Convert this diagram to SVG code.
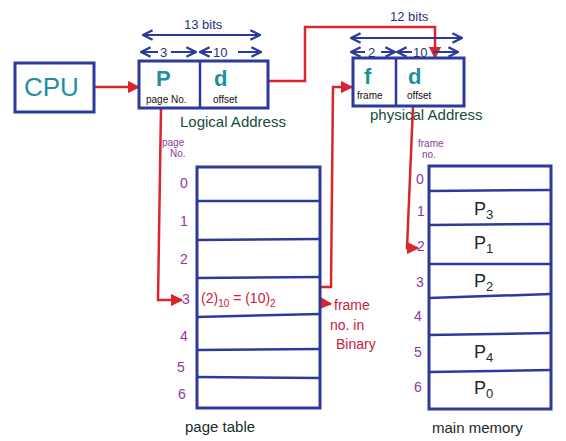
<svg xmlns="http://www.w3.org/2000/svg" width="566" height="441" viewBox="0 0 566 441">
<style>
.box{fill:#fff;stroke:#2c3a9c;stroke-width:3}
.ln{stroke:#2c3a9c;stroke-width:2.5;fill:none}
.red{stroke:#d8262b;stroke-width:2.5;fill:none}
.bl{stroke:#2c3a9c;stroke-width:2;fill:none}
text{font-family:"Liberation Sans",Arial,sans-serif}
.teal{fill:#1f8fa0;font-size:26px}
.tealb{fill:#1f8fa0;font-size:22px;font-weight:bold}
.sm{fill:#111;font-size:10px}
.navy{fill:#23327f;font-size:13px}
.grn{fill:#184a3c;font-size:15px}
.pur{fill:#8b3a9e;font-size:14px}
.purs{fill:#8b3a9e;font-size:10px}
.pk{fill:#c8203c;font-size:14px}
.dk{fill:#1a2a2a;font-size:18px}
.cap{fill:#1a2a2a;font-size:15px}
</style>
<defs>
<marker id="ar" viewBox="0 0 10 10" refX="9" refY="5" markerWidth="5" markerHeight="5" orient="auto-start-reverse"><path d="M0,0 L10,5 L0,10 z" fill="#d8262b"/></marker>
<marker id="ab" viewBox="0 0 10 10" refX="9" refY="5" markerWidth="6" markerHeight="6" orient="auto-start-reverse"><path d="M1,1 L9,5 L1,9" fill="none" stroke="#2c3a9c" stroke-width="2"/></marker>
</defs>
<g id="connectors">
<line class="red" x1="95" y1="87" x2="139" y2="87" marker-end="url(#ar)"/>
<polyline class="red" points="268,81 305,81 305,27 435,27 435,58" marker-end="url(#ar)"/>
<polyline class="red" points="161,108 158,300 182,300" marker-end="url(#ar)"/>
<polyline class="red" points="319,287 331,287 333,87 352,87" marker-end="url(#ar)"/>
<polyline class="red" points="413,106 407,248 418,248" marker-end="url(#ar)"/>
<line class="red" x1="295" y1="301" x2="331" y2="304" marker-end="url(#ar)"/>
</g>
<g id="cpu">
<rect class="box" x="15" y="63" width="79" height="49"/>
<text class="teal" x="24" y="96">CPU</text>
</g>
<g id="logical-address">
<rect class="box" x="139" y="61" width="129" height="47"/>
<line class="ln" x1="200" y1="61" x2="200" y2="108"/>
<text class="tealb" x="156" y="86">P</text>
<text class="sm" x="146" y="103">page No.</text>
<text class="tealb" x="214" y="86">d</text>
<text class="sm" x="213" y="103">offset</text>
<text class="navy" x="184" y="29">13 bits</text>
<line class="bl" x1="143" y1="35" x2="260" y2="35" marker-start="url(#ab)" marker-end="url(#ab)"/>
<line class="bl" x1="141" y1="52" x2="158" y2="52" marker-start="url(#ab)"/>
<text class="navy" x="160" y="57" font-size="15">3</text>
<line class="bl" x1="171" y1="52" x2="196" y2="52" marker-end="url(#ab)"/>
<line class="bl" x1="200" y1="52" x2="212" y2="52" marker-start="url(#ab)"/>
<text class="navy" x="213" y="57" font-size="15">10</text>
<line class="bl" x1="238" y1="52" x2="261" y2="52" marker-end="url(#ab)"/>
<text class="grn" x="180" y="127">Logical Address</text>
</g>
<g id="physical-address">
<rect class="box" x="353" y="58" width="111" height="48"/>
<line class="ln" x1="396" y1="58" x2="396" y2="106"/>
<text class="tealb" x="364" y="84">f</text>
<text class="sm" x="357" y="99">frame</text>
<text class="tealb" x="408" y="84">d</text>
<text class="sm" x="407" y="99">offset</text>
<text class="navy" x="390" y="21">12 bits</text>
<line class="bl" x1="351" y1="38" x2="462" y2="38" marker-start="url(#ab)" marker-end="url(#ab)"/>
<line class="bl" x1="351" y1="52" x2="365" y2="52" marker-start="url(#ab)"/>
<text class="navy" x="368" y="57" font-size="15">2</text>
<line class="bl" x1="381" y1="52" x2="395" y2="52" marker-end="url(#ab)"/>
<line class="bl" x1="397" y1="52" x2="412" y2="52" marker-start="url(#ab)"/>
<text class="navy" x="413" y="57" font-size="15">10</text>
<line class="bl" x1="433" y1="52" x2="458" y2="52" marker-end="url(#ab)"/>
<text class="grn" x="370" y="120">physical Address</text>
</g>
<g id="page-table">
<rect class="box" x="197" y="167" width="123" height="241"/>
<line class="ln" x1="197" y1="201" x2="320" y2="201"/>
<line class="ln" x1="197" y1="240" x2="320" y2="239"/>
<line class="ln" x1="197" y1="278" x2="320" y2="277"/>
<line class="ln" x1="197" y1="317" x2="320" y2="314"/>
<line class="ln" x1="197" y1="350" x2="320" y2="349"/>
<line class="ln" x1="197" y1="377" x2="320" y2="378"/>
<text class="purs" x="162" y="146">page</text>
<text class="purs" x="170" y="157">No.</text>
<text class="pur" x="180" y="188">0</text>
<text class="pur" x="180" y="226">1</text>
<text class="pur" x="180" y="264">2</text>
<text class="pur" x="182" y="304" font-size="16">3</text>
<text class="pur" x="180" y="341">4</text>
<text class="pur" x="177" y="372" font-size="16">5</text>
<text class="pur" x="178" y="399" font-size="16">6</text>
<text class="pk" x="201" y="303">(2)<tspan font-size="10" dy="4">10</tspan><tspan dy="-4"> = (10)</tspan><tspan font-size="10" dy="4">2</tspan></text>
<text class="pk" x="334" y="310" font-size="15">frame</text>
<text class="pk" x="330" y="330">no. in</text>
<text class="pk" x="336" y="349">Binary</text>
<text class="cap" x="185" y="432">page table</text>
</g>
<g id="main-memory">
<rect class="box" x="429" y="166" width="122" height="243"/>
<line class="ln" x1="429" y1="191" x2="551" y2="190"/>
<line class="ln" x1="429" y1="225" x2="551" y2="224"/>
<line class="ln" x1="429" y1="264" x2="551" y2="264"/>
<line class="ln" x1="429" y1="298" x2="551" y2="294"/>
<line class="ln" x1="429" y1="335" x2="551" y2="333"/>
<line class="ln" x1="429" y1="372" x2="551" y2="370"/>
<text class="purs" x="418" y="147">frame</text>
<text class="purs" x="422" y="158">no.</text>
<text class="pur" x="416" y="184">0</text>
<text class="pur" x="417" y="216">1</text>
<text class="pur" x="417" y="251">2</text>
<text class="pur" x="416" y="287">3</text>
<text class="pur" x="414" y="321">4</text>
<text class="pur" x="414" y="357">5</text>
<text class="pur" x="414" y="392">6</text>
<text class="dk" x="474" y="215">P<tspan font-size="13" dy="4">3</tspan></text>
<text class="dk" x="474" y="249">P<tspan font-size="13" dy="4">1</tspan></text>
<text class="dk" x="474" y="287">P<tspan font-size="13" dy="4">2</tspan></text>
<text class="dk" x="474" y="358">P<tspan font-size="13" dy="4">4</tspan></text>
<text class="dk" x="474" y="394">P<tspan font-size="13" dy="4">0</tspan></text>
<text class="cap" x="432" y="433">main memory</text>
</g>
</svg>
